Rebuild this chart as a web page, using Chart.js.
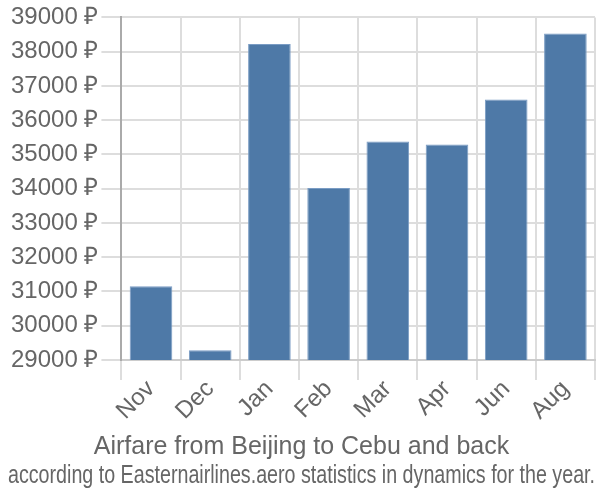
<!DOCTYPE html>
<html>
<head>
<meta charset="utf-8">
<script src="https://cdn.jsdelivr.net/npm/chart.js@4"></script>
<style>
  html, body { margin: 0; padding: 0; background: #fff; }
  #wrap { width: 600px; height: 500px; }
</style>
</head>
<body>
<div id="wrap"><canvas id="chart" width="600" height="500"></canvas></div>
<script>
const months = ['Nov', 'Dec', 'Jan', 'Feb', 'Mar', 'Apr', 'Jun', 'Aug'];
const prices = [31150, 29280, 38220, 34020, 35380, 35290, 36600, 38530];
const titleLines = [
  'Airfare from Beijing to Cebu and back',
  'according to Easternairlines.aero statistics in dynamics for the year.',
];

const chart = new Chart(document.getElementById('chart'), {
  type: 'bar',
  data: {
    labels: months,
    datasets: [
      {
        data: prices,
        backgroundColor: '#4e79a7',
        borderColor: '#7a9cc4',
        borderWidth: 1,
        barPercentage: 0.72,
        categoryPercentage: 1,
      },
    ]
  },
  options: {
    responsive: false,
    animation: false,
    layout: {
      padding: {
        top: 5,
        left: 8,
        right: 5,
        bottom: 0,
      }
    },
    scales: {
      x: {
        grid: {
          color: '#dddddd',
          lineWidth: 2,
          tickLength: 20,
          offset: true,
        },
        border: {
          color: '#cccccc',
          width: 2,
        },
        ticks: {
          color: '#666666',
          font: { family: 'Liberation Sans', size: 24 },
          maxRotation: 45,
          minRotation: 45,
          padding: -5,
        },
      },
      y: {
        min: 29000,
        max: 39000,
        grid: {
          color: '#dddddd',
          lineWidth: 2,
          tickLength: 20,
        },
        border: {
          color: '#aaaaaa',
          width: 2,
        },
        ticks: {
          stepSize: 1000,
          color: '#666666',
          font: { family: 'Liberation Sans', size: 24 },
          callback: (value) => value + ' ₽',
        },
      },
    },
    plugins: {
      legend: {
        display: false,
      },
      tooltip: {
        enabled: false,
      },
      title: {
        display: true,
        position: 'bottom',
        text: titleLines,
        color: '#666666',
        font: { family: 'Liberation Sans', size: 25, weight: 'normal', lineHeight: 1.15 },
        padding: { top: 12, bottom: 10 },
      },
    },
  },
});
</script>
</body>
</html>
